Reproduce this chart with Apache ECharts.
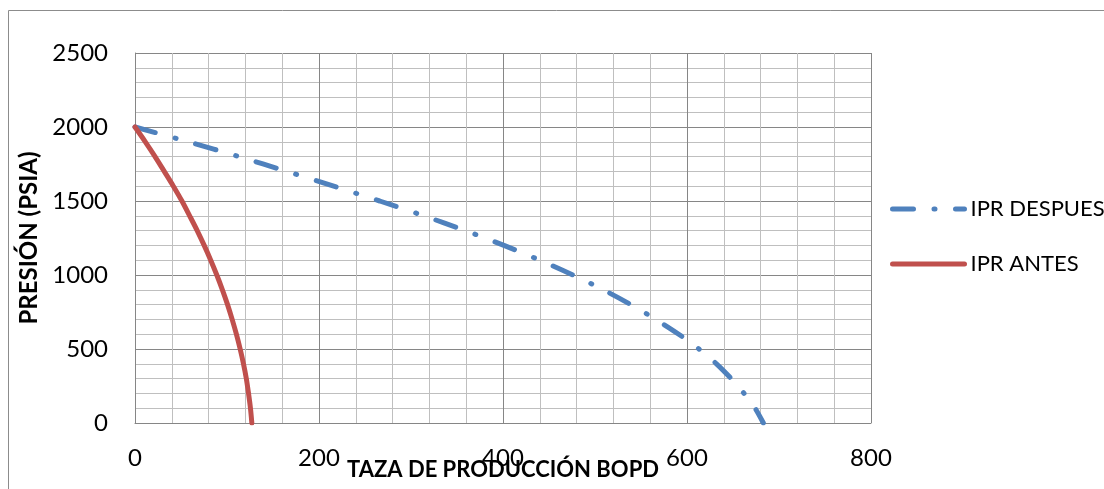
<!DOCTYPE html>
<html>
<head>
<meta charset="utf-8">
<script src="https://cdn.jsdelivr.net/npm/echarts@6/dist/echarts.min.js"></script>
<style>
  html, body { margin: 0; padding: 0; background: #fff; }
  #chart { width: 1104px; height: 489px; }
</style>
</head>
<body>
<div id="chart"></div>
<script>
// IPR curves: flow rate (BOPD) against bottom-hole pressure (psia)
const presion = [2000, 1900, 1800, 1700, 1600, 1500, 1400, 1300, 1200, 1100, 1000,
                 900, 800, 700, 600, 500, 400, 300, 200, 100, 0];
const caudalDespues = [0, 58, 113, 165, 216, 266, 314, 359, 401, 440, 476,
                       509, 539, 566, 591, 613, 632, 648, 662, 674, 683];
const caudalAntes = [0, 11.2, 21.8, 31.8, 41.7, 51, 59.4, 67.6, 75.2, 82.3, 88.9,
                     95, 100.6, 105.6, 110.2, 114.3, 117.9, 121, 123.4, 125.5, 127];

const xTicks = [0, 200, 400, 600, 800];
const yTicks = [0, 500, 1000, 1500, 2000, 2500];

const seriesNames = ['IPR DESPUES', 'IPR ANTES'];
const xTitle = 'TAZA DE PRODUCCIÓN BOPD';
const yTitle = 'PRESIÓN (PSIA)';

const pairs = (qs, ps) => qs.map((q, i) => [q, ps[i]]);

const FONT = 'Lato, "Open Sans", sans-serif';
const chart = echarts.init(document.getElementById('chart'), null, { renderer: 'canvas' });

chart.setOption({
  animation: false,
  backgroundColor: '#ffffff',
  grid: { left: 135, top: 53, right: 233, bottom: 66, containLabel: false, outerBoundsMode: 'none' },
  graphic: [{
    type: 'rect',
    shape: { x: 8.5, y: 10.5, width: 1200, height: 600 },
    style: { fill: 'none', stroke: '#8c8c8c', lineWidth: 1 },
    silent: true, z: -10
  }],
  legend: {
    orient: 'vertical',
    left: 885,
    top: 193,
    itemWidth: 72,
    itemHeight: 14,
    itemGap: 33,
    data: seriesNames,
    itemStyle: { opacity: 0 },
    lineStyle: { width: 5, cap: 'round' },
    textStyle: { fontFamily: FONT, fontSize: 22, color: '#000', padding: [0, 0, 0, 1] }
  },
  xAxis: {
    type: 'value',
    min: xTicks[0],
    max: xTicks[xTicks.length - 1],
    interval: 200,
    name: xTitle,
    nameLocation: 'middle',
    nameGap: 36,
    nameMoveOverlap: false,
    nameTextStyle: { fontFamily: FONT, fontSize: 22, fontWeight: 'bold', color: '#000' },
    axisLine: { show: true, lineStyle: { color: '#868686', width: 1 } },
    axisTick: { show: false },
    axisLabel: { fontFamily: FONT, fontSize: 24, color: '#000', margin: 23, formatter: v => String(v) },
    splitLine: { show: true, lineStyle: { color: '#868686', width: 1 } },
    minorTick: { show: false, splitNumber: 5 },
    minorSplitLine: { show: true, lineStyle: { color: '#bfbfbf', width: 1 } }
  },
  yAxis: {
    type: 'value',
    min: yTicks[0],
    max: yTicks[yTicks.length - 1],
    interval: 500,
    name: yTitle,
    nameLocation: 'middle',
    nameRotate: 90,
    nameGap: 88,
    nameTextStyle: { fontFamily: FONT, fontSize: 24, fontWeight: 'bold', color: '#000' },
    axisLine: { show: true, lineStyle: { color: '#868686', width: 1 } },
    axisTick: { show: false },
    axisLabel: { fontFamily: FONT, fontSize: 24, color: '#000', margin: 27, formatter: v => String(v) },
    splitLine: { show: true, lineStyle: { color: '#868686', width: 1 } },
    minorTick: { show: false, splitNumber: 5 },
    minorSplitLine: { show: true, lineStyle: { color: '#bfbfbf', width: 1 } }
  },
  series: [
    {
      name: seriesNames[0],
      type: 'line',
      data: pairs(caudalDespues, presion),
      smooth: 0.3,
      showSymbol: false,
      symbol: 'none',
      itemStyle: { color: '#4f81bd' },
      lineStyle: { color: '#4f81bd', width: 5, type: [21, 20.5, 1, 20.5], cap: 'round' }
    },
    {
      name: seriesNames[1],
      type: 'line',
      data: pairs(caudalAntes, presion),
      smooth: 0.3,
      showSymbol: false,
      symbol: 'none',
      itemStyle: { color: '#c0504d' },
      lineStyle: { color: '#c0504d', width: 5, cap: 'round' }
    }
  ]
});
</script>
</body>
</html>
